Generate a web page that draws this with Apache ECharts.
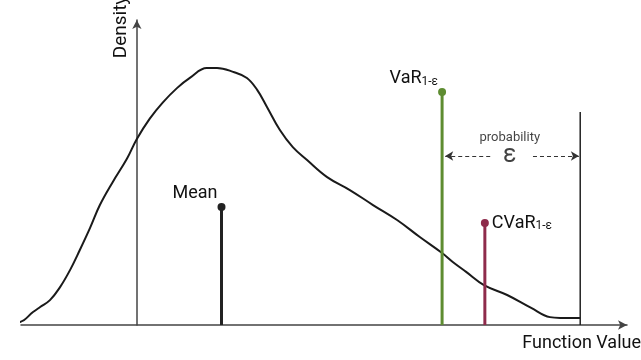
<!DOCTYPE html>
<html>
<head>
<meta charset="utf-8">
<script src="https://cdn.jsdelivr.net/npm/echarts@6/dist/echarts.min.js"></script>
<style>
  html, body { margin: 0; padding: 0; background: #fff; }
  #chart { width: 641px; height: 360px; }
</style>
</head>
<body>
<div id="chart"></div>
<script>
// density curve (x = function value, y = density)
const curveX = [-2.87, -2.62, -2.33, -2.17, -1.95, -1.72, -1.50, -1.28, -1.05, -0.83, -0.54, -0.22, 0.00, 0.29, 0.58, 0.90, 1.19, 1.57, 1.80, 2.16, 2.47, 2.70, 2.92, 3.21, 3.50, 3.82, 4.27, 4.78, 5.30, 5.84, 6.35, 6.85, 7.09, 7.39, 7.79, 8.31, 8.85, 9.27, 9.50, 9.95]
const curveY = [0.008, 0.012, 0.051, 0.071, 0.098, 0.150, 0.216, 0.295, 0.382, 0.472, 0.563, 0.655, 0.732, 0.812, 0.875, 0.932, 0.972, 1.011, 1.011, 0.996, 0.972, 0.925, 0.858, 0.767, 0.700, 0.649, 0.582, 0.531, 0.472, 0.413, 0.346, 0.283, 0.248, 0.209, 0.157, 0.118, 0.067, 0.031, 0.028, 0.028]

// stems: mean, VaR, CVaR
const stemNames = ['Mean', 'VaR', 'CVaR']
const stemX = [1.9, 6.85, 7.81]
const stemY = [0.464, 0.917, 0.401]
const stemColors = ['#222222', '#5e8c31', '#8e2b4b']

// upper bound of support + probability epsilon arrows
const tailX = 9.95
const tailTop = 0.838
const arrowY = 0.665
const arrowLeft = [7.93, 6.92]
const arrowRight = [8.89, 9.92]
const probX = 8.37
const probY = 0.736

const font = 'Roboto, "Noto Sans", sans-serif'
const chart = echarts.init(document.getElementById('chart'))

const subRich = {
  a: { fontSize: 18, color: '#111', fontFamily: font },
  b: { fontSize: 12, color: '#111', fontFamily: font, padding: [6, 0, 0, 0] }
}

const stemSeries = stemNames.map((name, i) => {
  let label
  if (name === 'Mean') {
    label = { show: true, formatter: 'Mean', position: 'left', distance: 0, offset: [0, -14], fontSize: 18, color: '#111', fontFamily: font }
  } else if (name === 'VaR') {
    label = { show: true, formatter: '{a|VaR}{b|1-ε}', position: 'left', distance: 0, offset: [0, -13], rich: subRich }
  } else {
    label = { show: true, formatter: '{a|CVaR}{b|1-ε}', position: 'right', distance: 3, rich: subRich }
  }
  return {
    name,
    type: 'line',
    clip: false,
    silent: true,
    symbol: 'circle',
    symbolSize: 8,
    color: stemColors[i],
    lineStyle: { width: 3, color: stemColors[i] },
    itemStyle: { color: stemColors[i] },
    data: [
      { value: [stemX[i], 0], symbol: 'none', label: { show: false } },
      { value: [stemX[i], stemY[i]], label }
    ]
  }
})

const option = {
  animation: false,
  grid: { left: 21, right: 14, top: 20, bottom: 35 },
  xAxis: {
    type: 'value',
    min: -2.6,
    max: 11,
    axisLine: { onZero: false, symbol: ['none', 'arrow'], symbolSize: [7, 9], lineStyle: { color: '#444', width: 1.5 } },
    axisTick: { show: false },
    axisLabel: { show: false },
    splitLine: { show: false }
  },
  yAxis: {
    type: 'value',
    min: 0,
    max: 1.2,
    axisLine: { show: true, onZero: true, symbol: ['none', 'arrow'], symbolSize: [7, 9], lineStyle: { color: '#444', width: 1.5 } },
    axisTick: { show: false },
    axisLabel: { show: false },
    splitLine: { show: false }
  },
  graphic: [
    { type: 'text', x: 121, y: 27, rotation: Math.PI / 2, style: { text: 'Density', font: '19px ' + font, fill: '#111', align: 'center', verticalAlign: 'middle' } },
    { type: 'text', x: 641, y: 343, style: { text: 'Function Value', font: '18px ' + font, fill: '#111', align: 'right', verticalAlign: 'middle' } }
  ],
  series: [
    {
      name: 'density',
      type: 'line',
      clip: false,
      silent: true,
      smooth: 0.4,
      symbol: 'none',
      lineStyle: { width: 2, color: '#1a1a1a' },
      data: curveX.map((x, i) => [x, curveY[i]])
    },
    {
      name: 'tail',
      type: 'line',
      silent: true,
      symbol: 'none',
      lineStyle: { width: 1.5, color: '#222' },
      data: [[tailX, 0], [tailX, tailTop]],
      markLine: {
        silent: true,
        symbol: ['none', 'arrow'],
        symbolSize: [7, 8],
        label: { show: false },
        lineStyle: { type: [4, 3], color: '#333', width: 1.2 },
        data: [
          [{ coord: [arrowLeft[0], arrowY] }, { coord: [arrowLeft[1], arrowY] }],
          [{ coord: [arrowRight[0], arrowY] }, { coord: [arrowRight[1], arrowY] }]
        ]
      }
    },
    ...stemSeries,
    {
      name: 'epsilon',
      type: 'scatter',
      silent: true,
      symbolSize: 0,
      data: [
        { value: [probX, probY], label: { show: true, formatter: 'probability', position: 'inside', fontSize: 13, color: '#111', fontFamily: font } },
        { value: [probX, arrowY], label: { show: true, formatter: 'ε', position: 'inside', fontSize: 25, color: '#111', fontFamily: font } }
      ]
    }
  ]
}

chart.setOption(option)
</script>
</body>
</html>
